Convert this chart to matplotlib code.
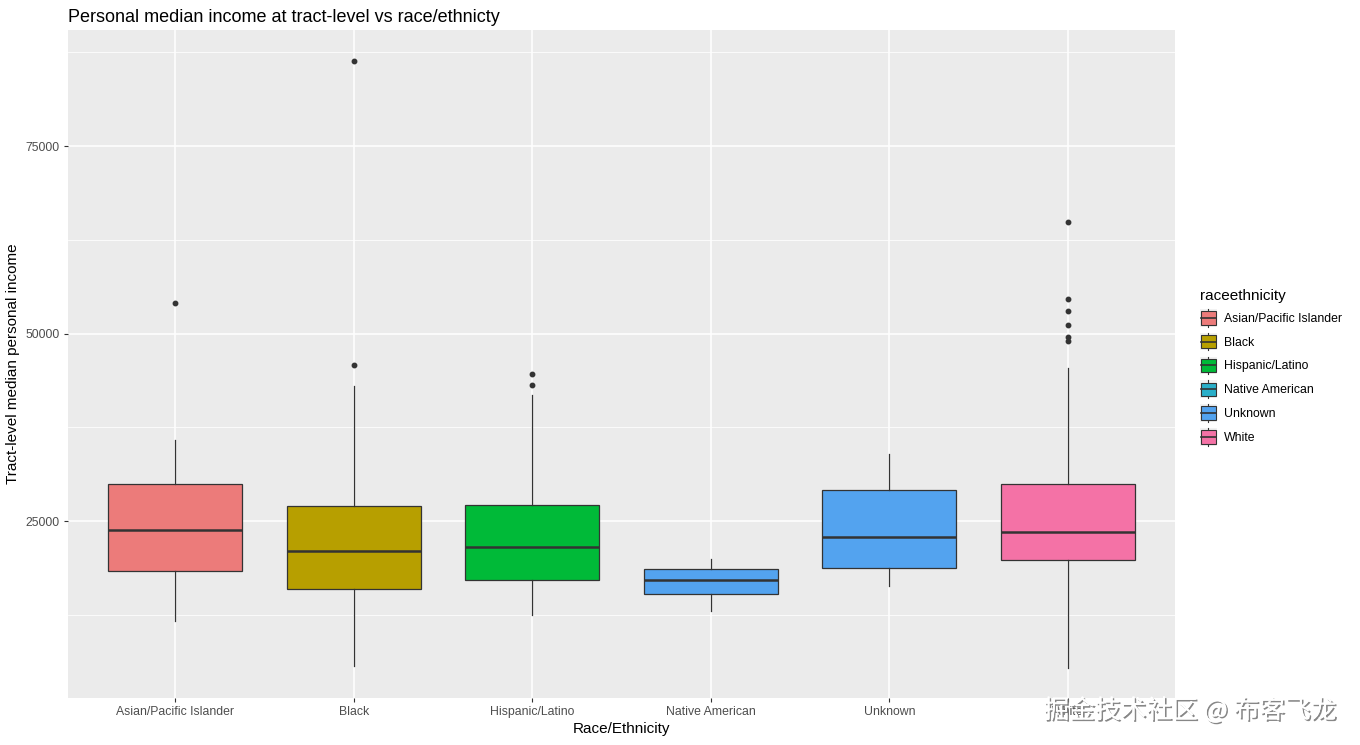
import matplotlib
matplotlib.use('Agg')
import matplotlib.pyplot as plt
import matplotlib.patheffects as pe
from matplotlib.patches import Rectangle, Patch
from matplotlib.lines import Line2D
from matplotlib.legend_handler import HandlerBase

# data
groups = ['Asian/Pacific Islander', 'Black', 'Hispanic/Latino', 'Native American', 'Unknown', 'White']
whislo = [11700, 5600, 12400, 13050, 16400, 5400]
q1 = [18300, 15900, 17100, 15300, 18800, 19750]
med = [23850, 21050, 21550, 17150, 22900, 23600]
q3 = [30000, 26950, 27200, 18650, 29100, 30000]
whishi = [35800, 43000, 41800, 20000, 34000, 45350]
fliers = [[54100], [45800, 86300], [43150, 44600], [], [], [49000, 49500, 51200, 53050, 54650, 64900]]
colors = ['#EC7B7A', '#B79F00', '#00BA38', '#53A3EF', '#53A3EF', '#F472A6']
key_colors = ['#EC7B7A', '#B79F00', '#00BA38', '#2AAFC9', '#53A3EF', '#F472A6']

plt.rcParams['font.family'] = ['Liberation Sans', 'DejaVu Sans']

fig = plt.figure(figsize=(13.6, 7.45), dpi=100)
ax = fig.add_axes([0.05, 0.0631, 0.814, 0.8966])
ax.set_facecolor('#EBEBEB')

stats = []
for i in range(len(groups)):
    stats.append({'label': groups[i], 'whislo': whislo[i], 'q1': q1[i], 'med': med[i],
                  'q3': q3[i], 'whishi': whishi[i], 'fliers': fliers[i]})

bp = ax.bxp(stats, positions=range(1, 7), widths=0.75, patch_artist=True, showcaps=False,
            boxprops=dict(edgecolor='#333333', linewidth=0.9),
            medianprops=dict(color='#333333', linewidth=1.8),
            whiskerprops=dict(color='#333333', linewidth=0.9),
            flierprops=dict(marker='o', markersize=3.2, markerfacecolor='#333333',
                            markeredgecolor='#333333', linestyle='none'),
            zorder=3)
for box, c in zip(bp['boxes'], colors):
    box.set_facecolor(c)

ax.set_xlim(0.4, 6.6)
ax.set_ylim(1400, 90470)
ax.set_yticks([25000, 50000, 75000])
ax.set_yticklabels(['25000', '50000', '75000'])
ax.set_yticks([12500, 37500, 62500, 87500], minor=True)
ax.set_xticks(range(1, 7))
ax.set_xticklabels(groups)
ax.grid(True, which='major', color='white', linewidth=1.1, zorder=0)
ax.grid(True, which='minor', axis='y', color='white', linewidth=0.55, zorder=0)
ax.set_axisbelow(True)
for s in ax.spines.values():
    s.set_visible(False)
ax.tick_params(axis='both', which='major', length=3, color='#333333', labelcolor='#4D4D4D',
               labelsize=8.8, width=0.8, pad=3)
ax.tick_params(axis='y', which='minor', length=0)

ax.set_xlabel('Race/Ethnicity', fontsize=11, color='black', labelpad=3)
ax.set_ylabel('Tract-level median personal income', fontsize=11, color='black', labelpad=4)
ax.set_title('Personal median income at tract-level vs race/ethnicty', fontsize=13, loc='left', pad=6)


class BoxKey(HandlerBase):
    def create_artists(self, legend, orig_handle, xdescent, ydescent, width, height, fontsize, trans):
        x0, y0 = -xdescent, -ydescent
        bg = Rectangle((x0, y0), width, height, facecolor='#F2F2F2', edgecolor='none', transform=trans)
        cx = x0 + width / 2
        wl = Line2D([cx, cx], [y0, y0 + height], color='#333333', linewidth=0.8, transform=trans)
        bx = Rectangle((x0 + width * 0.06, y0 + height * 0.12), width * 0.88, height * 0.76,
                       facecolor=orig_handle.get_facecolor(), edgecolor='#333333', linewidth=0.8,
                       transform=trans)
        ml = Line2D([x0 + width * 0.06, x0 + width * 0.94], [y0 + height / 2] * 2,
                    color='#333333', linewidth=1.2, transform=trans)
        return [bg, wl, bx, ml]


handles = [Patch(facecolor=c) for c in key_colors]
leg = fig.legend(handles, groups, handler_map={Patch: BoxKey()}, loc='upper left',
                 bbox_to_anchor=(0.874, 0.627), frameon=False, title='raceethnicity',
                 title_fontsize=11, fontsize=8.8, handlelength=1.4, handleheight=1.85,
                 labelspacing=0.5, handletextpad=0.6, alignment='left')

fig.text(0.983, 0.028, '掘金技术社区 @ 布客飞龙', ha='right', va='bottom', fontsize=18.5,
         color='white', family=['Noto Sans CJK SC', 'DejaVu Sans'],
         path_effects=[pe.withSimplePatchShadow(offset=(1.2, -1.2), shadow_rgbFace='#7A7A7A', alpha=0.9),
                       pe.Normal()])

fig.savefig('out.png', dpi=100, facecolor='white')
